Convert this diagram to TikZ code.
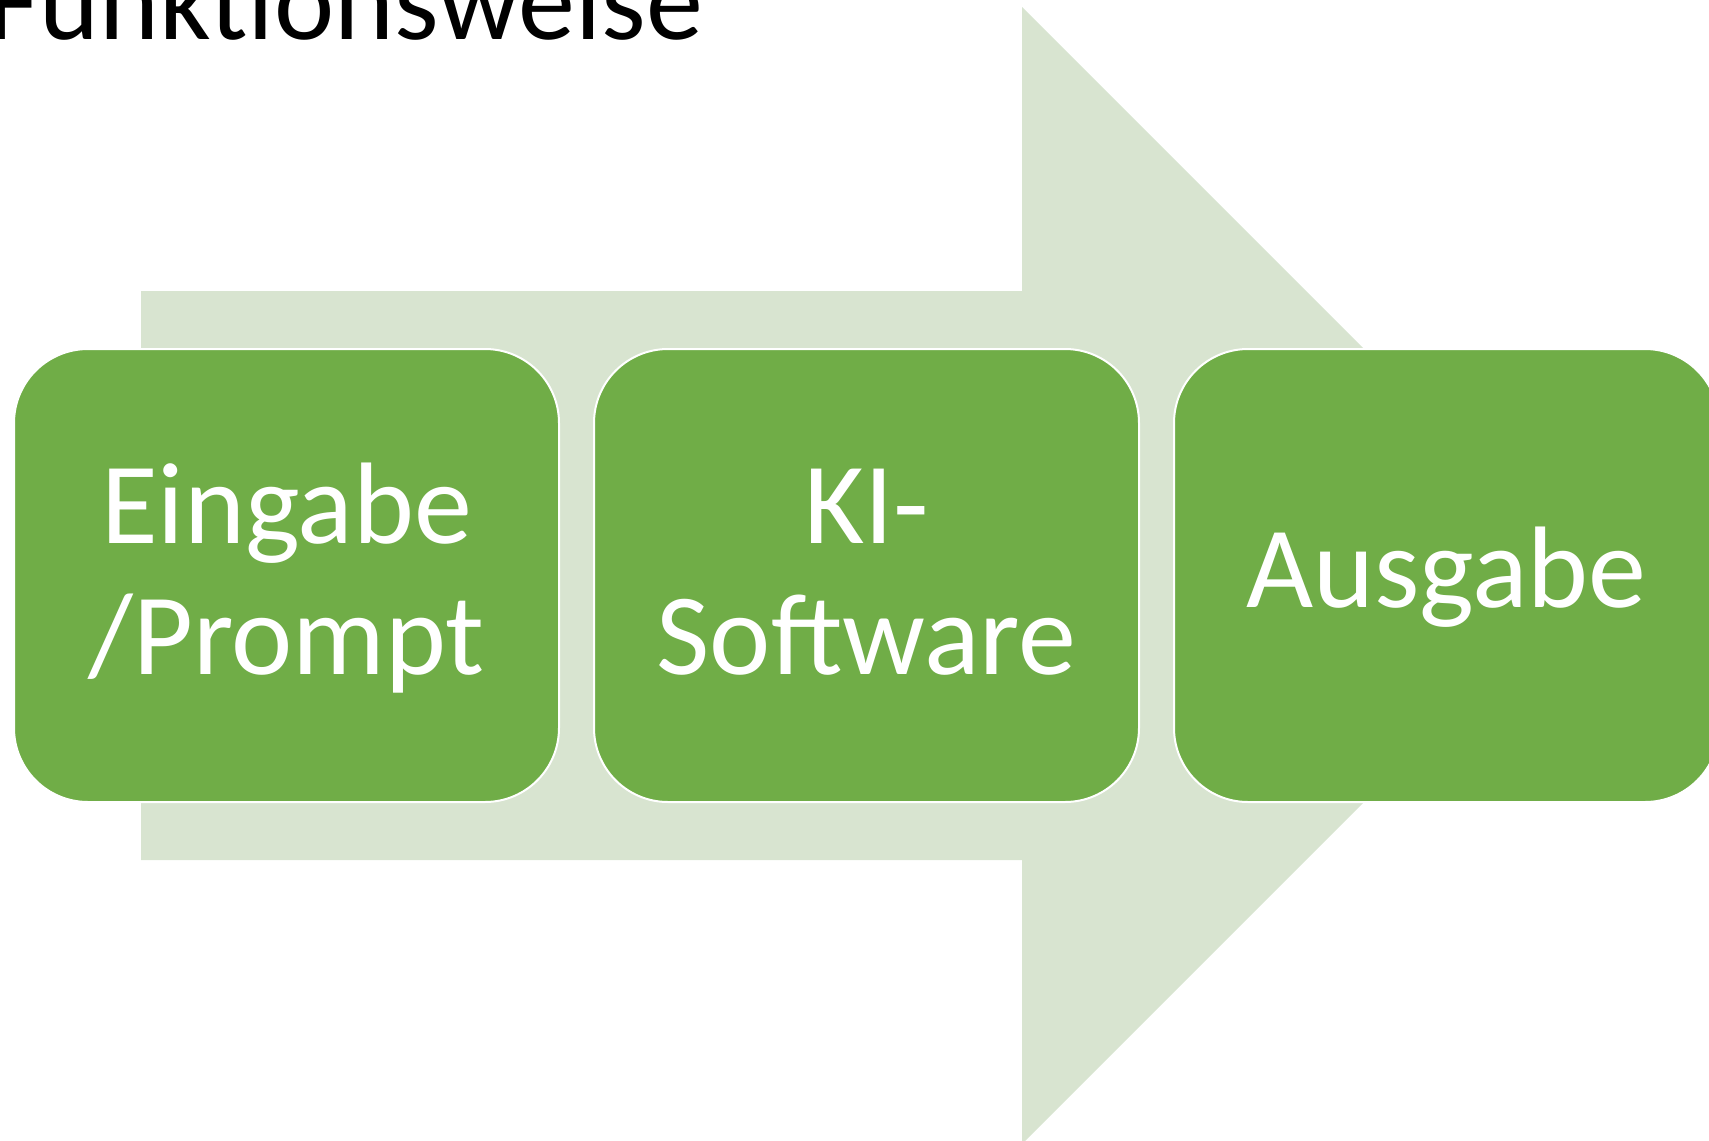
\documentclass[tikz,border=0pt]{standalone}
\usepackage{fontspec}
\setmainfont{Carlito}
\usetikzlibrary{positioning}
\definecolor{boxgreen}{RGB}{112,173,71}
\definecolor{arrowgreen}{RGB}{216,228,208}
\tikzset{
    % style for the three steps
    schritt/.style={
           rectangle,
           rounded corners=74pt,
           draw=white,
           line width=2pt,
           outer sep=0pt,
           fill=boxgreen,
           text=white,
           minimum width=545pt,
           minimum height=453pt,
           align=center,
           inner sep=0pt,
           font=\fontsize{116}{131}\selectfont},
    % two lines of text
    zweizeilig/.style={text height=230pt, text depth=33pt},
    % one line of text
    einzeilig/.style={text height=63pt, text depth=0pt},
    % style for the big arrow behind
    pfeil/.style={fill=arrowgreen, draw=none}
}

\begin{document}
\begin{tikzpicture}[x=1pt, y=-1pt, node distance=35pt]
  \useasboundingbox (0,0) rectangle (1709,1141);
  \clip (0,0) rectangle (1709,1141);
  % big arrow
  \fill[pfeil] (141,291) -- (1022,291) -- (1022,7) -- (1590.5,575.5)
    -- (1022,1144) -- (1022,860) -- (141,860) -- cycle;
  % steps
  \node[schritt,zweizeilig] (eingabe) at (286.5,575.5) {Eingabe\\/Prompt};
  \node[schritt,zweizeilig,right=of eingabe] (software) {KI-\\Software};
  \node[schritt,einzeilig,right=of software] (ausgabe) {Ausgabe};
  % title
  \node[anchor=base west, inner sep=0pt, font=\fontsize{114}{132}\selectfont] (titel) at (-13,39) {Funktionsweise};
\end{tikzpicture}
\end{document}
